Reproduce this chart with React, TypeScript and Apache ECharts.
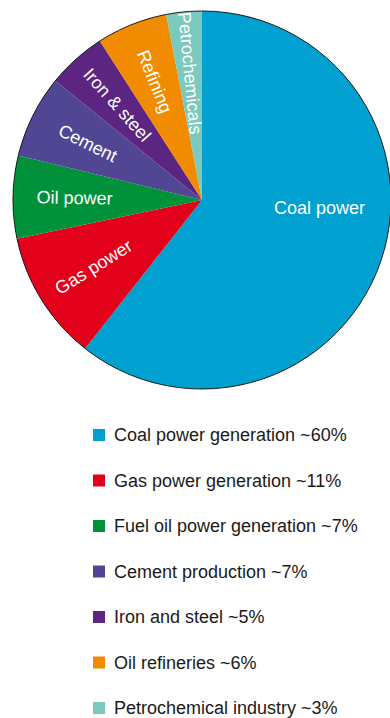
import React, { useEffect, useRef } from "react";
import * as echarts from "echarts";

const shortNames = ["Coal power", "Gas power", "Oil power", "Cement", "Iron & steel", "Refining", "Petrochemicals"];
const legendNames = [
  "Coal power generation ~60%",
  "Gas power generation ~11%",
  "Fuel oil power generation ~7%",
  "Cement production ~7%",
  "Iron and steel ~5%",
  "Oil refineries ~6%",
  "Petrochemical industry ~3%",
];
const values = [60, 11, 7, 7, 5, 6, 3];
const colors = ["#00A0D1", "#E2001A", "#00923A", "#504693", "#5C2582", "#F18C00", "#7CC9BE"];

const FONT = "'Liberation Sans', Arial, Helvetica, sans-serif";

export default function App() {
  const ref = useRef<HTMLDivElement>(null);
  useEffect(() => {
    document.body.style.margin = "0";
    const chart = echarts.init(ref.current!, null, { renderer: "svg" });
    const legendMap: Record<string, string> = {};
    shortNames.forEach((n, i) => (legendMap[n] = legendNames[i]));
    const data = shortNames.map((n, i) => ({ name: n, value: values[i], itemStyle: { color: colors[i] } }));
    chart.setOption({
      animation: false,
      legend: {
        orient: "vertical",
        left: 93,
        top: 425,
        height: 340,
        padding: 0,
        icon: "rect",
        itemWidth: 12,
        itemHeight: 12,
        itemGap: 25.5,
        selectedMode: false,
        data: shortNames,
        formatter: (name: string) => legendMap[name],
        textStyle: { fontSize: 18, lineHeight: 20, color: "#1a1a1a", fontFamily: FONT, padding: [0, 0, 0, 4] },
      },
      series: [
        {
          type: "pie",
          center: [202, 200],
          radius: [0, 189],
          startAngle: 90,
          clockwise: true,
          silent: true,
          label: { show: false },
          labelLine: { show: false },
          itemStyle: { borderWidth: 0 },
          data,
        },
        {
          type: "pie",
          center: [202, 200],
          radius: [0, 189],
          startAngle: 90,
          silent: true,
          label: { show: false },
          labelLine: { show: false },
          itemStyle: { color: "rgba(0,0,0,0)", borderColor: "#1a1a1a", borderWidth: 1 },
          data: [{ name: "outline", value: 1 }],
        },
        {
          type: "pie",
          center: [202, 200],
          radius: [60, 189],
          startAngle: 90,
          silent: true,
          itemStyle: { color: "rgba(0,0,0,0)" },
          labelLine: { show: false },
          label: {
            show: true,
            position: "inside",
            rotate: "radial",
            color: "#ffffff",
            fontSize: 18,
            fontFamily: FONT,
            formatter: "{b}",
          },
          labelLayout: (params: any) => (params.dataIndex === 0 ? { dx: -3, dy: -34 } : {}),
          data: shortNames.map((n, i) => ({
            name: n,
            value: values[i],
            label: i === 0 ? { rotate: 0 } : undefined,
          })),
        },
      ],
    });
    return () => chart.dispose();
  }, []);
  return <div ref={ref} style={{ width: 390, height: 718 }} />;
}
